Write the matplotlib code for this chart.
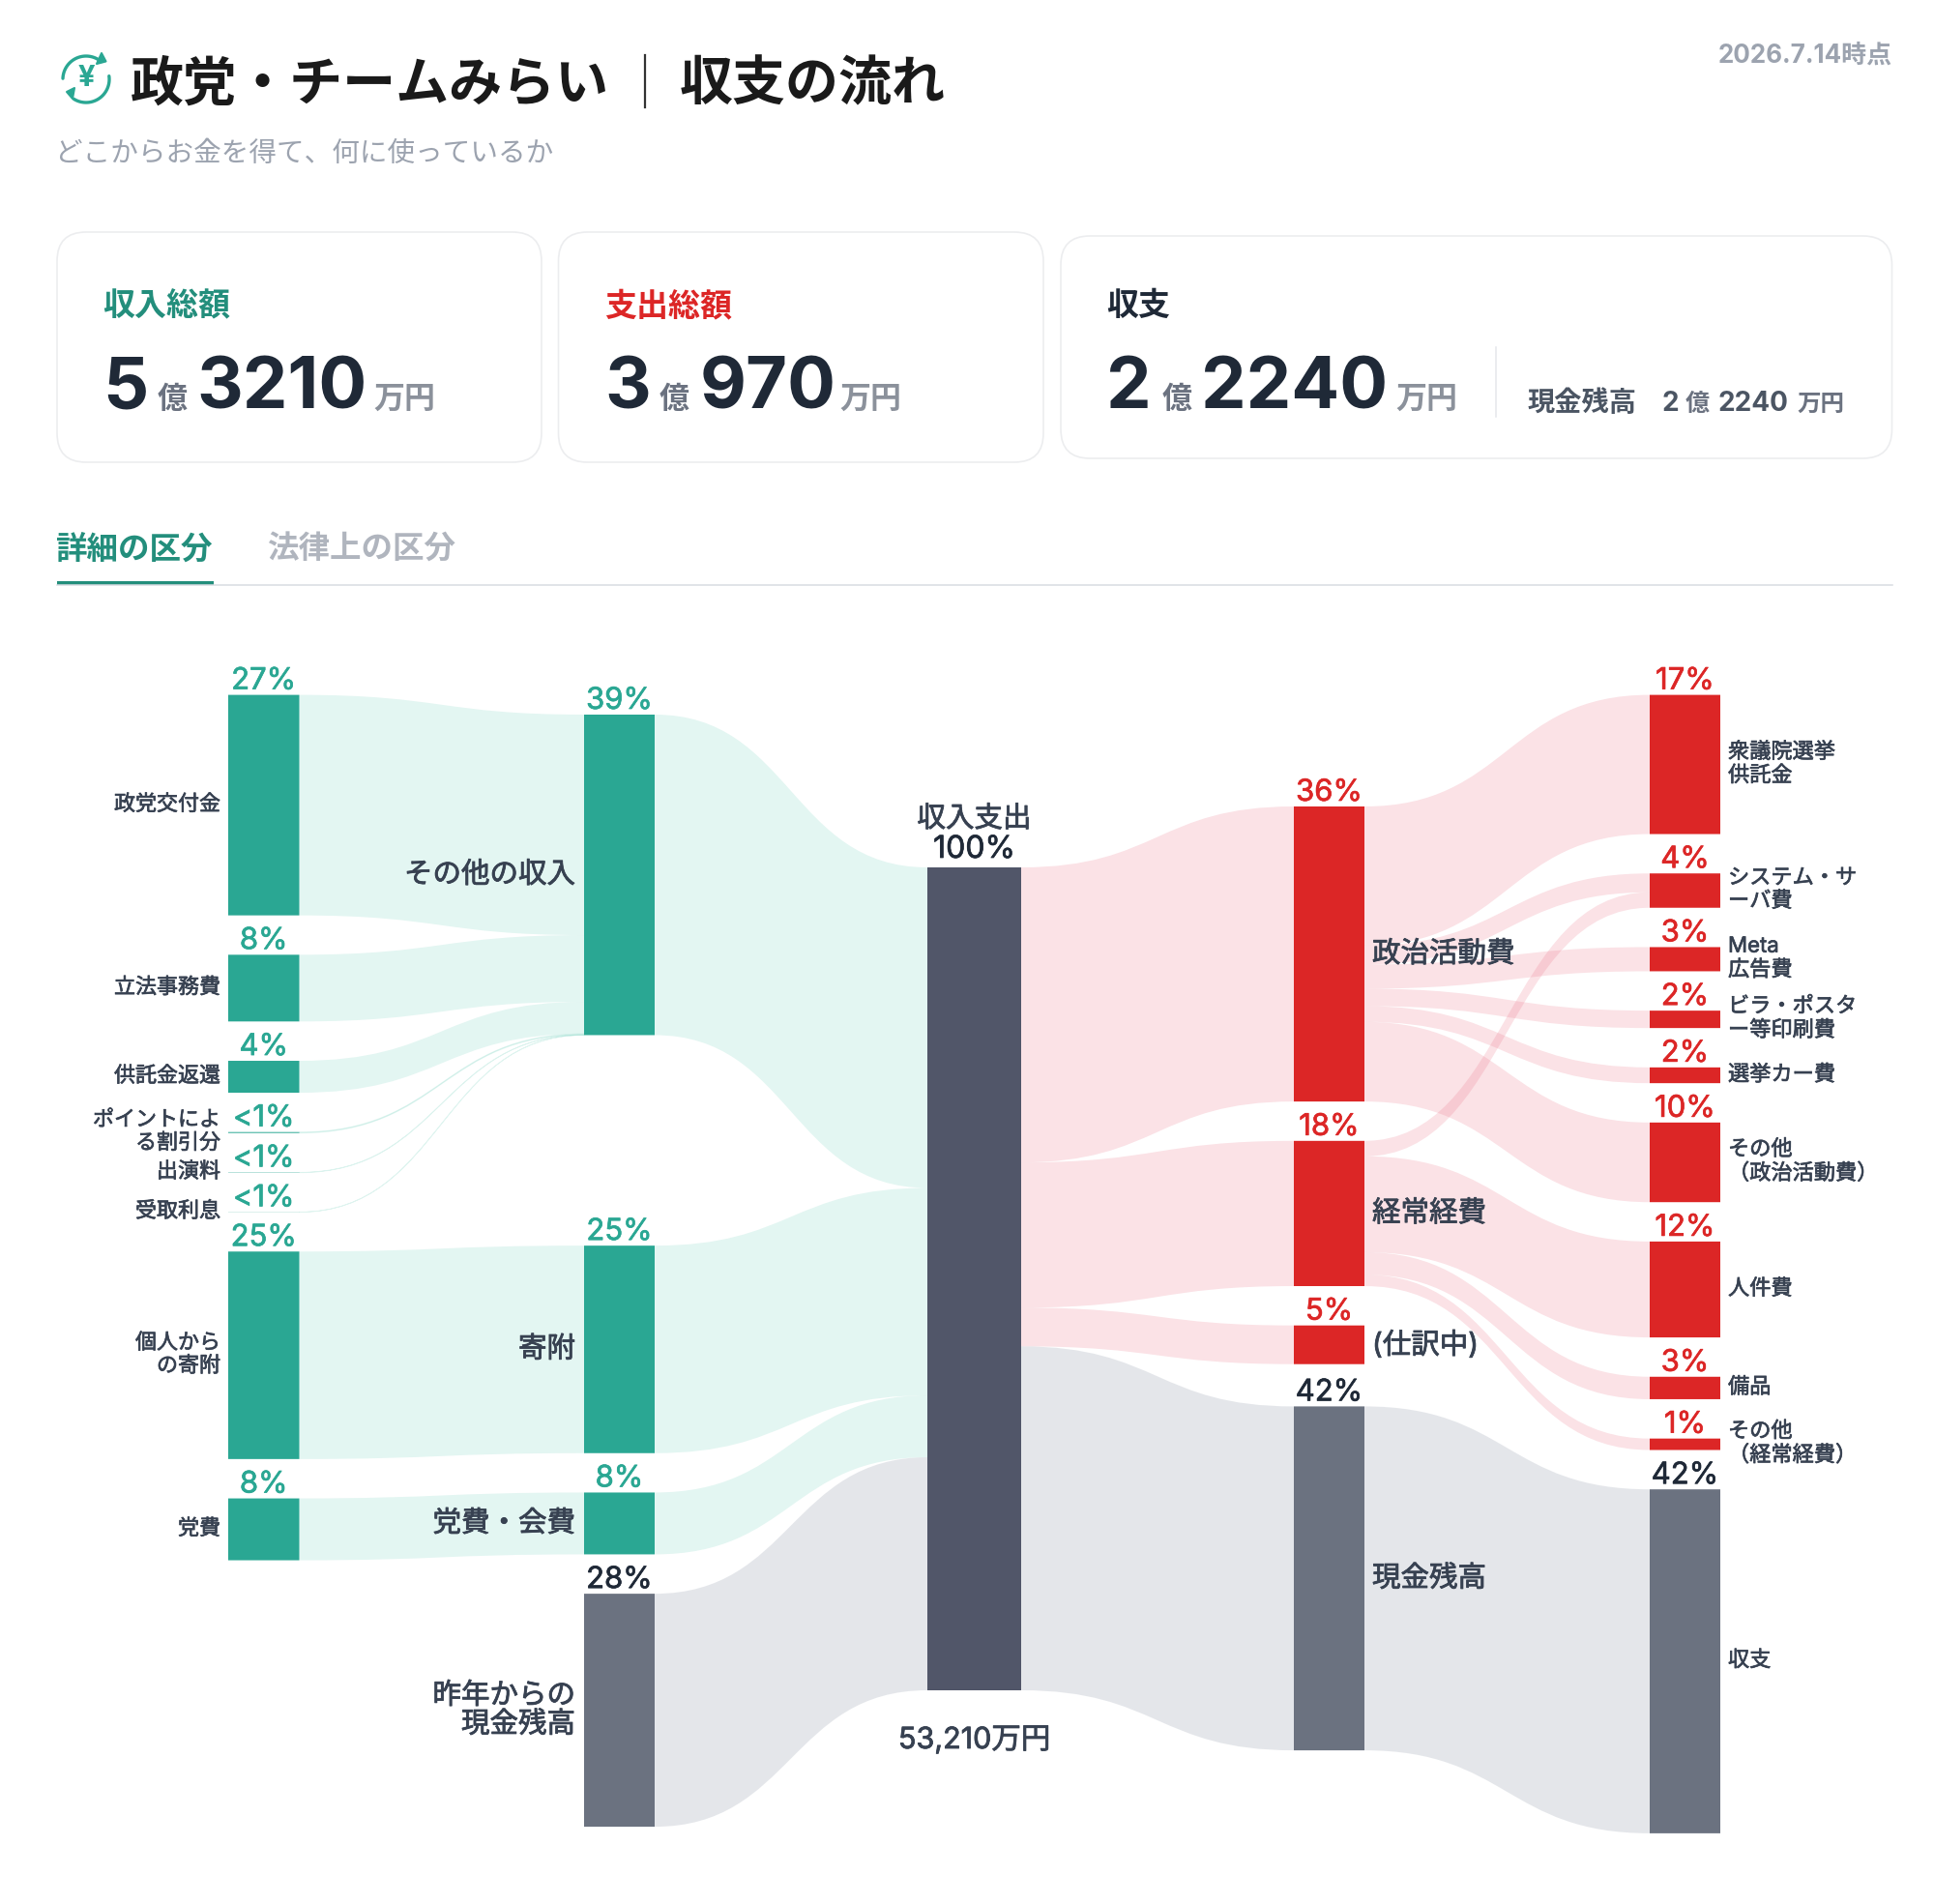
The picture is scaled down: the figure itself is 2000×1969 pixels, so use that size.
import numpy as np
import matplotlib
matplotlib.use("Agg")
import matplotlib.pyplot as plt
import matplotlib.patheffects as pe
from matplotlib.patches import FancyBboxPatch, PathPatch, Rectangle, Polygon
from matplotlib.path import Path

plt.rcParams['font.family'] = ['Inter', 'Noto Sans CJK JP', 'DejaVu Sans']

# --- DATA (万円)
income_labels = ['政党交付金', '立法事務費', '供託金返還', 'ポイントによ\nる割引分', '出演料', '受取利息',
                 '個人から\nの寄附', '党費']
income_values = [14258, 4314, 2063, 60, 20, 10, 13418, 4000]
income_pcts = ['27%', '8%', '4%', '<1%', '<1%', '<1%', '25%', '8%']
income_groups = ['その他の収入', 'その他の収入', 'その他の収入', 'その他の収入', 'その他の収入', 'その他の収入',
                 '寄附', '党費・会費']

group_labels = ['その他の収入', '寄附', '党費・会費', '昨年からの\n現金残高']
group_values = [20725, 13418, 4000, 15067]
group_pcts = ['39%', '25%', '8%', '28%']

total_label = '収入支出'
total_pct = '100%'
total_text = '53,210万円'

category_labels = ['政治活動費', '経常経費', '(仕訳中)', '現金残高']
category_values = [19078, 9390, 2502, 22240]
category_pcts = ['36%', '18%', '5%', '42%']

item_labels = ['衆議院選挙\n供託金', 'システム・サ\nーバ費', 'Meta\n広告費', 'ビラ・ポスタ\nー等印刷費', '選挙カー費',
               'その他\n（政治活動費）', '人件費', '備品', 'その他\n（経常経費）', '収支']
item_pcts = ['17%', '4%', '3%', '2%', '2%', '10%', '12%', '3%', '1%', '42%']

detail_src = ['政治活動費', '政治活動費', '政治活動費', '政治活動費', '政治活動費', '政治活動費',
              '経常経費', '経常経費', '経常経費', '経常経費', '現金残高']
detail_dst = ['衆議院選挙\n供託金', 'システム・サ\nーバ費', 'Meta\n広告費', 'ビラ・ポスタ\nー等印刷費', '選挙カー費',
              'その他\n（政治活動費）', 'システム・サ\nーバ費', '人件費', '備品', 'その他\n（経常経費）', '収支']
detail_val = [9000, 1220, 1563, 1125, 1020, 5150, 1000, 6200, 1450, 740, 22240]

card_labels = ['収入総額', '支出総額', '収支']
card_oku = ['5', '3', '2']
card_man = ['3210', '970', '2240']

# --- COLOURS
TEAL = '#2AA793'
TEAL_DK = '#238E7C'
RED = '#DC2626'
GRAY = '#6B7280'
CENTER = '#515669'
DARK = '#1F2937'
LABEL = '#374151'
LINK_TEAL = (115/255, 210/255, 190/255, 0.2)
LINK_RED = (235/255, 110/255, 130/255, 0.2)
LINK_GRAY = (168/255, 175/255, 188/255, 0.3)


def px(n):
    return n * 72 / 100


fig = plt.figure(figsize=(20, 19.69), dpi=100)
ax = fig.add_axes([0, 0, 1, 1])
ax.set_xlim(0, 2000)
ax.set_ylim(1969, 0)
ax.axis('off')


def txt(x, y, s, size, color=DARK, weight='normal', ha='left', va='baseline', stroke=0, **kw):
    t = ax.text(x, y, s, fontsize=px(size), color=color, fontweight=weight, ha=ha, va=va, **kw)
    if stroke:
        # no medium weight installed, thicken the regular one
        t.set_path_effects([pe.withStroke(linewidth=stroke, foreground=color)])
    return t


# --- HEADER
t1 = np.radians(np.linspace(178, 50, 40))
t2 = np.radians(np.linspace(8, -122, 40))
ax.plot(89 + 24 * np.cos(t1), 82 - 24 * np.sin(t1), color=TEAL, lw=2.4, solid_capstyle='round')
ax.plot(89 + 24 * np.cos(t2), 82 - 24 * np.sin(t2), color=TEAL, lw=2.4, solid_capstyle='round')
ax.add_patch(Polygon([(109.5, 63.5), (105, 55), (100, 66)], closed=True, fc=TEAL, ec=TEAL, lw=1.5, joinstyle='round'))
ax.add_patch(Polygon([(69, 95), (77, 91), (75, 102)], closed=True, fc=TEAL, ec=TEAL, lw=1.5, joinstyle='round'))
txt(89, 81, '¥', 31, TEAL, 'bold', ha='center', va='center')

txt(135, 103.5, '政党・チームみらい', 55, '#1A1A1A', 'bold')
ax.plot([667, 667], [57, 111], color='#333333', lw=1.6)
txt(703, 103.5, '収支の流れ', 55, '#1A1A1A', 'bold')
txt(57.5, 167, 'どこからお金を得て、何に使っているか', 28.6, '#9CA3AF')
txt(1956.5, 65, '2026.7.14時点', 26, '#9CA3AF', 'bold', ha='right')

# --- CARDS
card_box = [(59, 240, 501, 238), (577.5, 240, 501.5, 238), (1097, 244, 859.5, 230)]
card_color = [TEAL_DK, RED, DARK]
card_pos = [(106.5, 163, 203, 386.5), (625.5, 681.5, 723.5, 868), (1144, 1201.5, 1241.5, 1443)]
for i in range(3):
    x, y, w, h = card_box[i]
    ax.add_patch(FancyBboxPatch((x + 30, y + 30), w - 60, h - 60, boxstyle='round,pad=30,rounding_size=30',
                                fc='white', ec='#ECEDEF', lw=1.2))
    x0, x1, x2, x3 = card_pos[i]
    txt(x0, 326, card_labels[i], 33, card_color[i], 'bold')
    txt(x0, 422, card_oku[i], 74, DARK, 'bold')
    txt(x1, 422, '億', 31, GRAY, 'bold')
    txt(x2, 422, card_man[i], 74, DARK, 'bold')
    txt(x3, 422, '万円', 32, '#8B919B', 'bold')
ax.plot([1547, 1547], [359, 431], color='#E5E7EB', lw=1.1)
txt(1580, 425, '現金残高', 28.2, '#4B5563', 'bold')
txt(1718, 425, card_oku[2], 28, '#4B5563', 'bold')
txt(1743, 425, '億', 25, GRAY, 'bold')
txt(1776, 425, card_man[2], 28, '#4B5563', 'bold')
txt(1858, 425, '万円', 24.5, GRAY, 'bold')

# --- TABS
txt(57.5, 578, '詳細の区分', 32.5, TEAL_DK, 'bold')
txt(276, 578, '法律上の区分', 32.5, '#B0B5BE', 'bold')
ax.plot([59, 1956.5], [604.5, 604.5], color='#D9DCE1', lw=1.1)
ax.add_patch(Rectangle((59, 601), 162, 3.5, fc=TEAL_DK, ec='none'))

# --- SANKEY
px_per_man = 851 / 53210
col_x = [236, 604, 959, 1338, 1706]
col_w = [73.5, 73, 97, 73, 73]
col_top = [718.6, 739, 897, 834, 718.6]
node_gap = 40.7
extra_gap = {'寄附': 177, '現金残高': 3}

columns = [income_labels, group_labels, [total_label], category_labels, item_labels]
node_col = {}
node_val = {}
for c, names in enumerate(columns):
    for n in names:
        node_col[n] = c
for n, v in zip(income_labels, income_values):
    node_val[n] = v
for n, v in zip(group_labels, group_values):
    node_val[n] = v
node_val[total_label] = sum(group_values)
for n, v in zip(category_labels, category_values):
    node_val[n] = v
for n in item_labels:
    node_val[n] = sum(v for d, v in zip(detail_dst, detail_val) if d == n)

node_top = {}
for c, names in enumerate(columns):
    y = col_top[c]
    for n in names:
        y += extra_gap.get(n, 0)
        node_top[n] = y
        y += node_val[n] * px_per_man + node_gap

link_src = income_labels + group_labels + [total_label] * 4 + detail_src
link_dst = income_groups + [total_label] * 4 + category_labels + detail_dst
link_val = income_values + group_values + category_values + detail_val


def link_color(s, d):
    if d in ('収支', '現金残高') or s == '昨年からの\n現金残高':
        return LINK_GRAY
    if node_col[d] <= 2:
        return LINK_TEAL
    return LINK_RED


out_y = dict(node_top)
in_y = dict(node_top)
for s, d, v in zip(link_src, link_dst, link_val):
    h = v * px_per_man
    x0 = col_x[node_col[s]] + col_w[node_col[s]]
    x1 = col_x[node_col[d]]
    xm = (x0 + x1) / 2
    y0, y1 = out_y[s], in_y[d]
    verts = [(x0, y0), (xm, y0), (xm, y1), (x1, y1), (x1, y1 + h), (xm, y1 + h), (xm, y0 + h), (x0, y0 + h), (x0, y0)]
    codes = [Path.MOVETO, Path.CURVE4, Path.CURVE4, Path.CURVE4, Path.LINETO, Path.CURVE4, Path.CURVE4, Path.CURVE4,
             Path.CLOSEPOLY]
    # very thin flows still show as a hairline
    thin = h < 2
    ax.add_patch(PathPatch(Path(verts, codes), fc=link_color(s, d), ec=link_color(s, d) if thin else 'none',
                           lw=0.6 if thin else 0, zorder=1))
    out_y[s] += h
    in_y[d] += h


def node_color(n):
    if n == total_label:
        return CENTER
    if n in ('収支', '現金残高', '昨年からの\n現金残高'):
        return GRAY
    return TEAL if node_col[n] < 2 else RED


def pct_color(n):
    if n in ('収支', '現金残高', '昨年からの\n現金残高', total_label):
        return DARK
    return TEAL if node_col[n] < 2 else RED


pcts = income_pcts + group_pcts + [total_pct] + category_pcts + item_pcts
names = income_labels + group_labels + [total_label] + category_labels + item_labels
for n, p in zip(names, pcts):
    c = node_col[n]
    h = node_val[n] * px_per_man
    ax.add_patch(Rectangle((col_x[c], node_top[n]), col_w[c], h, fc=node_color(n), ec='none', zorder=2, snap=False))
    xc = col_x[c] + col_w[c] / 2
    ym = node_top[n] + h / 2
    if c != 2:
        txt(xc, node_top[n] - 6, p, 31, pct_color(n), ha='center', stroke=0.5, zorder=3)
    if c == 0:
        txt(228, ym - 1, n, 22, LABEL, ha='right', va='center', linespacing=1.22, stroke=0.5, zorder=3)
    elif c == 1:
        txt(595, ym + 0.5, n, 29.5, LABEL, ha='right', va='center', linespacing=1.1, stroke=0.6, zorder=3)
    elif c == 3:
        txt(1419, ym + 0.5, n, 29.5, LABEL, va='center', linespacing=1.1, stroke=0.6, zorder=3)
    elif c == 4:
        txt(1787, ym - 1, n, 22.2, LABEL, va='center', linespacing=1.22, stroke=0.5, zorder=3)

txt(1007.5, 855, total_label, 29.5, LABEL, ha='center', stroke=0.6, zorder=3)
txt(1007.5, 887, total_pct, 32, DARK, ha='center', stroke=0.5, zorder=3)
txt(1007.5, 1808, total_text, 30.5, LABEL, ha='center', stroke=0.6, zorder=3)

fig.savefig('out.png', dpi=100, facecolor='white')
